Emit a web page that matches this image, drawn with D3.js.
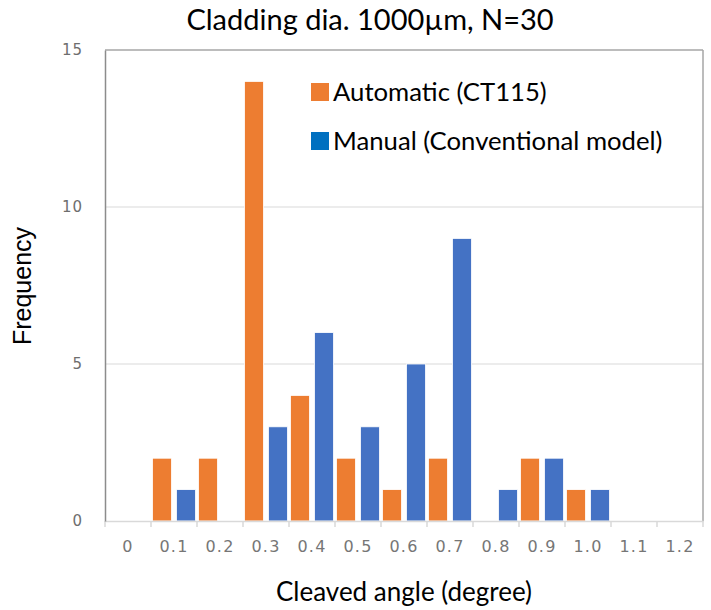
<!DOCTYPE html>
<html>
<head>
<meta charset="utf-8">
<script src="https://cdn.jsdelivr.net/npm/d3@7"></script>
<style>
body{margin:0;background:#fff;}
svg{display:block;}
</style>
</head>
<body>
<svg id="chart" width="711" height="610"></svg>
<script>
const categories = ["0","0.1","0.2","0.3","0.4","0.5","0.6","0.7","0.8","0.9","1.0","1.1","1.2"];
const automatic = [0,2,2,14,4,2,1,2,0,2,1,0,0];
const manual    = [0,1,0,3,6,3,5,9,1,2,1,0,0];
const seriesNames = ["Automatic (CT115)","Manual (Conventional model)"];
const yTicks = [0,5,10,15];
const titleText = "Cladding dia. 1000\u00b5m, N=30";
const xLabel = "Cleaved angle (degree)";
const yLabel = "Frequency";

const barColors = ["#ED7D31","#4472C4"];
const legendColors = ["#ED7D31","#0070C0"];

const svg = d3.select("#chart");
const m = {left:105, right:8, top:50, bottom:89};
const W = 711, H = 610;
const iw = W - m.left - m.right, ih = H - m.top - m.bottom;

const x = d3.scaleBand().domain(categories).range([m.left, m.left+iw]).padding(0);
const xs = d3.scaleBand().domain(seriesNames).range([0, x.bandwidth()]).paddingInner(0.208).paddingOuter(0.0625);
const y = d3.scaleLinear().domain([0,15]).range([m.top+ih, m.top]);

const calib = "Lato, 'Open Sans', sans-serif";

// gridlines
svg.append("g").selectAll("line").data(yTicks.filter(d=>d>0 && d<15)).join("line")
  .attr("x1", m.left).attr("x2", m.left+iw)
  .attr("y1", d=>y(d)).attr("y2", d=>y(d))
  .attr("stroke","#d9d9d9").attr("stroke-width",1);

// border top & right
svg.append("line").attr("x1",m.left).attr("x2",m.left+iw).attr("y1",y(15)).attr("y2",y(15))
  .attr("stroke","#a6a6a6").attr("stroke-width",1.5);
svg.append("line").attr("x1",m.left+iw).attr("x2",m.left+iw).attr("y1",y(15)).attr("y2",y(0))
  .attr("stroke","#a6a6a6").attr("stroke-width",1.5);

// bars
const data = [];
categories.forEach((c,i)=>{
  data.push({c, s:seriesNames[0], v:automatic[i], col:barColors[0]});
  data.push({c, s:seriesNames[1], v:manual[i], col:barColors[1]});
});
svg.append("g").selectAll("rect").data(data.filter(d=>d.v>0)).join("rect")
  .attr("x", d=>x(d.c)+xs(d.s))
  .attr("width", xs.bandwidth())
  .attr("y", d=>y(d.v))
  .attr("height", d=>y(0)-y(d.v))
  .attr("fill", d=>d.col)
  .attr("stroke","#fff").attr("stroke-width",0.8);

// x axis
const xAxis = d3.axisBottom(x).tickSize(0).tickPadding(0);
const gx = svg.append("g").attr("transform",`translate(0,${y(0)})`).call(xAxis);
gx.select(".domain").attr("stroke","#d9d9d9").attr("stroke-width",1.5);
gx.selectAll(".tick text").attr("y",31).attr("dy",null).attr("font-family","'DejaVu Sans', sans-serif")
  .attr("font-size",16).attr("letter-spacing","1.2px").attr("fill","#767676");
// category boundary ticks
const bounds = categories.map(c=>x(c)).concat([x(categories[categories.length-1])+x.bandwidth()]);
gx.append("g").selectAll("line").data(bounds).join("line")
  .attr("x1",d=>d).attr("x2",d=>d).attr("y1",0).attr("y2",6)
  .attr("stroke","#d9d9d9").attr("stroke-width",1.5);

// y axis
const yAxis = d3.axisLeft(y).tickValues(yTicks).tickSize(0).tickPadding(22);
const gy = svg.append("g").attr("transform",`translate(${m.left},0)`).call(yAxis);
gy.select(".domain").attr("stroke","#8c8c8c").attr("stroke-width",1.5);
gy.selectAll(".tick text").attr("font-family","'DejaVu Sans', sans-serif")
  .attr("font-size",15).attr("letter-spacing","1px").attr("fill","#6e6e6e");

// title
svg.append("text").attr("x",370).attr("y",30).attr("text-anchor","middle")
  .attr("font-family",calib).attr("font-size",29).attr("fill","#000").text(titleText);

// axis labels
svg.append("text").attr("x",404).attr("y",601).attr("text-anchor","middle")
  .attr("font-family",calib).attr("font-size",26).attr("fill","#000").text(xLabel);
svg.append("text").attr("transform","translate(31,286) rotate(-90)").attr("text-anchor","middle")
  .attr("font-family","'Liberation Sans', Arial, sans-serif").attr("font-size",25).attr("fill","#000").text(yLabel);

// legend
const lg = svg.append("g");
seriesNames.forEach((n,i)=>{
  const yy = 83 + i*49;
  lg.append("rect").attr("x",311).attr("y",yy).attr("width",18).attr("height",18).attr("fill",legendColors[i]);
  lg.append("text").attr("x",333).attr("y",yy+18).attr("font-family",calib).attr("font-size",25.7)
    .attr("fill","#000").text(n);
});
</script>
</body>
</html>
